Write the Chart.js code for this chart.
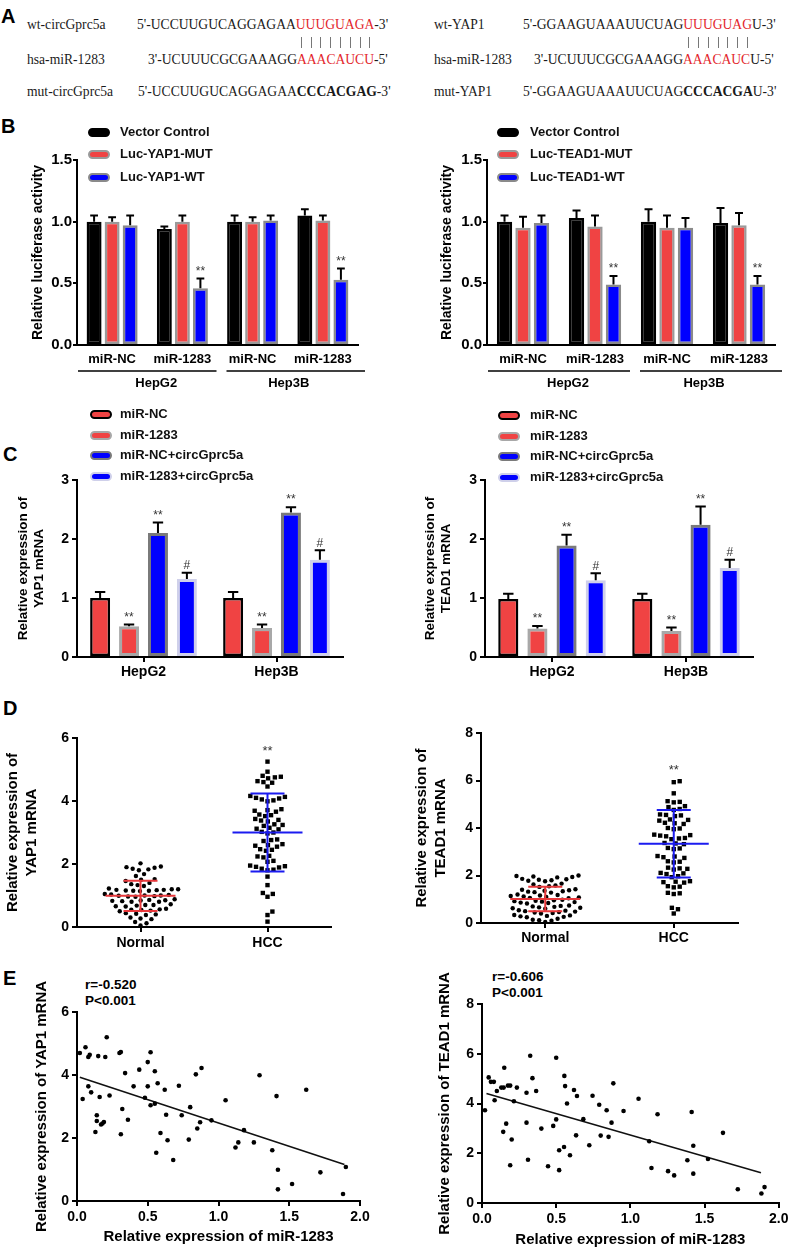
<!DOCTYPE html>
<html>
<head>
<meta charset="utf-8">
<title>circGprc5a / miR-1283 / YAP1 / TEAD1</title>
<script src="https://cdn.jsdelivr.net/npm/chart.js@4.4.1/dist/chart.umd.min.js"></script>
<style>
  body { margin: 0; background: #fff; }
  #page { position: relative; width: 791px; height: 1250px; overflow: hidden; font-family: "Liberation Sans", Arial, sans-serif; color: #000; }
  #page canvas { position: absolute; }
  .t { position: absolute; white-space: nowrap; line-height: 16px; }
  .serif { font-family: "Liberation Serif", "Times New Roman", serif; font-size: 13.6px; color: #1a1a1a; }
  .red { color: #e3262c; }
  .pl { font-weight: bold; font-size: 20px; line-height: 24px; }
  .lg { font-weight: bold; font-size: 13px; color: #111; z-index: 2; }
  .sw { position: absolute; width: 18px; height: 5px; border: 2px solid; border-radius: 5px; z-index: 2; }
  .pipe { position: absolute; width: 1px; height: 11px; background: #777; }
  .st { font-weight: bold; font-size: 13.5px; }
</style>
</head>
<body>
<div id="page">
  <div class="t pl" style="left:1px;top:4px">A</div>
  <div class="t serif" style="left:27px;top:17px">wt-circGprc5a</div>
  <div class="t serif" id="wtL" style="left:137px;top:17px">5'-UCCUUGUCAGGAGAA<span class="red">UUUGUAGA</span>-3'</div>
  <div class="t serif" style="left:27px;top:52px">hsa-miR-1283</div>
  <div class="t serif" style="left:148px;top:52px">3'-UCUUUCGCGAAAGG<span class="red">AAACAUCU</span>-5'</div>
  <div class="t serif" style="left:27px;top:84px">mut-circGprc5a</div>
  <div class="t serif" style="left:138px;top:84px">5'-UCCUUGUCAGGAGAA<b>CCCACGAG</b>-3'</div>

  <div class="t serif" style="left:434px;top:17px">wt-YAP1</div>
  <div class="t serif" id="wtR" style="left:523px;top:17px">5'-GGAAGUAAAUUCUAG<span class="red">UUUGUAG</span>U-3'</div>
  <div class="t serif" style="left:434px;top:52px">hsa-miR-1283</div>
  <div class="t serif" style="left:534px;top:52px">3'-UCUUUCGCGAAAGG<span class="red">AAACAUC</span>U-5'</div>
  <div class="t serif" style="left:434px;top:84px">mut-YAP1</div>
  <div class="t serif" style="left:523px;top:84px">5'-GGAAGUAAAUUCUAG<b>CCCACGA</b>U-3'</div>

  <div class="t pl" style="left:1px;top:114px">B</div>
  <div class="t pl" style="left:3px;top:442px">C</div>
  <div class="t pl" style="left:3px;top:696px">D</div>
  <div class="t pl" style="left:3px;top:966px">E</div>

  <div class="t st" style="left:85px;top:977px">r=-0.520</div>
  <div class="t st" style="left:85px;top:993px">P&lt;0.001</div>
  <div class="t st" style="left:492px;top:969px">r=-0.606</div>
  <div class="t st" style="left:492px;top:985px">P&lt;0.001</div>
</div>

<script>
// ---------- data ----------
// B: luciferase reporter
const bCats = ['miR-NC', 'miR-1283', 'miR-NC', 'miR-1283'];
const bGroups = ['HepG2', 'Hep3B'];
const bWtSig = ['', '**', '', '**'];

const bYapLabels = ['Vector Control', 'Luc-YAP1-MUT', 'Luc-YAP1-WT'];
const bYapVector = [1.00, 0.94, 1.00, 1.05];
const bYapVectorErr = [0.05, 0.02, 0.05, 0.05];
const bYapMut = [1.00, 1.00, 1.00, 1.01];
const bYapMutErr = [0.035, 0.05, 0.035, 0.04];
const bYapWt = [0.97, 0.46, 1.01, 0.53];
const bYapWtErr = [0.08, 0.08, 0.04, 0.09];

const bTeadLabels = ['Vector Control', 'Luc-TEAD1-MUT', 'Luc-TEAD1-WT'];
const bTeadVector = [1.00, 1.03, 1.00, 0.99];
const bTeadVectorErr = [0.05, 0.06, 0.10, 0.12];
const bTeadMut = [0.95, 0.96, 0.95, 0.97];
const bTeadMutErr = [0.09, 0.09, 0.10, 0.10];
const bTeadWt = [0.99, 0.49, 0.95, 0.49];
const bTeadWtErr = [0.06, 0.07, 0.08, 0.07];

// C: qPCR, one row per series, one column per cell line
const cCats = ['HepG2', 'Hep3B'];
const cLabels = ['miR-NC', 'miR-1283', 'miR-NC+circGprc5a', 'miR-1283+circGprc5a'];
const cSig = ['', '**', '**', '#'];
const cYap = [[1.00, 1.00], [0.52, 0.49], [2.10, 2.45], [1.32, 1.65]];
const cYapErr = [[0.10, 0.10], [0.03, 0.06], [0.18, 0.09], [0.11, 0.16]];
const cTead = [[0.985, 0.985], [0.485, 0.44], [1.89, 2.24], [1.30, 1.51]];
const cTeadErr = [[0.085, 0.085], [0.04, 0.06], [0.18, 0.31], [0.12, 0.14]];

// D: tissue expression
const dCats = ['Normal', 'HCC'];
const dSig = ['', '**'];
const dYapNormal = [2.02, 1.92, 1.90, 1.88, 1.85, 1.83, 1.80, 1.68, 1.62, 1.52, 1.50, 1.46, 1.40, 1.36, 1.33, 1.30,
  1.22, 1.20, 1.20, 1.18, 1.18, 1.17, 1.16, 1.15, 1.15, 1.14,
  1.05, 1.03, 1.02, 1.00, 1.00, 0.99, 0.98, 0.97, 0.96,
  0.88, 0.86, 0.85, 0.84, 0.83, 0.82, 0.80, 0.80,
  0.72, 0.70, 0.70, 0.68, 0.66, 0.65,
  0.58, 0.56, 0.55, 0.54, 0.52, 0.50,
  0.44, 0.42, 0.40, 0.38, 0.30, 0.27, 0.25, 0.16, 0.12, 0.05];
const dYapHcc = [5.25, 4.93, 4.80, 4.77, 4.75, 4.72, 4.63, 4.60, 4.58, 4.46,
  4.16, 4.13, 4.10, 4.08, 4.05, 4.02, 3.99,
  3.74, 3.71, 3.69, 3.66, 3.57, 3.55, 3.52,
  3.43, 3.40, 3.38, 3.35, 3.26, 3.24, 3.21, 3.15, 3.12, 3.10,
  3.02, 3.00, 2.97, 2.78, 2.76, 2.73,
  2.63, 2.60, 2.58, 2.55, 2.47, 2.45, 2.42,
  2.26, 2.24, 2.21, 2.10, 2.07,
  1.95, 1.93, 1.91, 1.89, 1.85, 1.82, 1.80,
  1.60, 1.33, 1.08, 1.05, 0.96, 0.49, 0.38, 0.17];
const dYapMean = [0.99, 3.00];
const dYapSd = [0.48, 1.24];

const dTeadNormal = [2.00, 1.98, 1.96, 1.94, 1.92, 1.86, 1.84, 1.82, 1.80, 1.78, 1.76,
  1.66, 1.62, 1.58, 1.55, 1.52,
  1.42, 1.40, 1.38, 1.36, 1.34, 1.32, 1.30, 1.28,
  1.20, 1.18, 1.16, 1.14, 1.12, 1.10, 1.08, 1.06, 1.04,
  0.98, 0.96, 0.94, 0.92, 0.90, 0.88, 0.86, 0.84, 0.82,
  0.74, 0.72, 0.70, 0.68, 0.66, 0.64, 0.62, 0.60,
  0.54, 0.52, 0.50, 0.48, 0.46, 0.44, 0.42, 0.40,
  0.34, 0.32, 0.30, 0.28, 0.26, 0.24, 0.18, 0.14, 0.12, 0.10, 0.04];
const dTeadHcc = [5.97, 5.93, 5.46, 5.13, 5.10, 5.08, 4.92, 4.88, 4.80, 4.76,
  4.57, 4.55, 4.53, 4.50, 4.36, 4.34, 4.31, 4.22, 4.20, 4.17,
  4.00, 3.98, 3.95, 3.72, 3.70, 3.68, 3.65, 3.58, 3.56, 3.53,
  3.37, 3.35, 3.32, 3.16, 3.14, 3.11,
  2.82, 2.80, 2.77, 2.74, 2.60, 2.58, 2.55,
  2.33, 2.30, 2.28, 2.25, 2.11, 2.09, 2.06,
  1.97, 1.93, 1.76, 1.74, 1.72, 1.70, 1.55, 1.53, 1.50,
  1.27, 1.25, 1.22, 0.64, 0.58, 0.40];
const dTeadMean = [1.01, 3.34];
const dTeadSd = [0.52, 1.42];

// E: correlation with miR-1283
const eYapX = [0.02, 0.06, 0.08, 0.09, 0.15, 0.20, 0.21, 0.30, 0.31, 0.04, 0.08, 0.10, 0.16, 0.23,
  0.14, 0.14, 0.13, 0.17, 0.18, 0.19, 0.32, 0.36, 0.31, 0.34, 0.40, 0.44, 0.48, 0.50, 0.50, 0.52,
  0.52, 0.55, 0.55, 0.57, 0.56, 0.59, 0.62, 0.63, 0.64, 0.68, 0.72, 0.74, 0.79, 0.80, 0.84, 0.85,
  0.87, 0.88, 0.95, 1.05, 1.12, 1.14, 1.18, 1.25, 1.29, 1.38, 1.41, 1.42, 1.42, 1.52, 1.62, 1.72, 1.88, 1.90];
const eYapY = [4.70, 4.88, 4.57, 4.64, 4.60, 4.57, 5.20, 4.70, 4.73, 3.24, 3.64, 3.45, 3.30, 3.35,
  2.72, 2.54, 2.19, 2.43, 2.46, 2.51, 2.92, 2.58, 2.12, 4.06, 3.64, 4.17, 3.28, 4.41, 3.64, 4.72,
  3.04, 4.12, 3.09, 3.74, 1.53, 2.16, 3.53, 2.74, 1.93, 1.30, 3.66, 2.72, 1.95, 2.98, 4.02, 2.30,
  2.50, 4.22, 2.56, 3.20, 1.70, 1.86, 2.25, 1.86, 3.99, 1.61, 3.33, 0.99, 0.37, 0.54, 3.53, 0.91, 0.22, 1.08];
const eYapFitX = [0.02, 1.89];
const eYapFitY = [3.93, 1.16];

const eTeadX = [0.02, 0.045, 0.06, 0.08, 0.085, 0.10, 0.13, 0.146, 0.15, 0.175, 0.19, 0.215, 0.235,
  0.143, 0.163, 0.20, 0.19, 0.30, 0.325, 0.34, 0.365, 0.30, 0.31, 0.40, 0.445, 0.48, 0.50, 0.50,
  0.52, 0.52, 0.555, 0.56, 0.553, 0.573, 0.593, 0.62, 0.64, 0.634, 0.683, 0.723, 0.745, 0.79, 0.80,
  0.84, 0.853, 0.873, 0.885, 0.954, 1.055, 1.127, 1.142, 1.183, 1.254, 1.295, 1.384, 1.413, 1.424,
  1.424, 1.523, 1.624, 1.724, 1.883, 1.904];
const eTeadY = [3.73, 5.05, 4.87, 4.87, 4.13, 4.50, 4.64, 4.64, 5.44, 4.72, 4.72, 4.09, 4.64,
  2.86, 3.19, 2.55, 1.52, 4.43, 5.92, 5.02, 4.50, 3.23, 1.74, 2.99, 1.48, 3.10, 3.36, 5.84,
  2.12, 1.32, 5.11, 4.70, 2.25, 4.00, 1.92, 4.54, 4.30, 2.72, 3.37, 2.32, 4.31, 3.95, 2.71,
  3.73, 2.66, 3.23, 4.81, 3.70, 4.19, 2.48, 1.41, 3.57, 1.28, 1.11, 1.72, 3.66, 2.30,
  1.18, 1.77, 2.82, 0.55, 0.38, 0.64];
const eTeadFitX = [0.03, 1.88];
const eTeadFitY = [4.40, 1.22];

// ---------- styling ----------
const FONT = '"Liberation Sans", Arial, sans-serif';
const RED = '#f04343', BLUE = '#0000ff';
const bFill = ['#000', RED, BLUE];
const bEdge = ['#000', '#9a9a9a', '#8a8a8a'];
const cFill = [RED, RED, BLUE, BLUE];
const cEdge = ['#000', '#a8a8a8', '#7a7a7a', '#cfd0ea'];
const dColors = ['#e8393c', '#1b1bf0'];

Chart.defaults.font.family = FONT;
Chart.defaults.color = '#000';
Chart.defaults.plugins.legend.display = false;
Chart.defaults.plugins.tooltip.enabled = false;

const page = document.getElementById('page');

function canvasAt(box) {
  const c = document.createElement('canvas');
  c.width = box.w; c.height = box.h;
  c.style.left = box.l + 'px'; c.style.top = box.t + 'px';
  c.style.width = box.w + 'px'; c.style.height = box.h + 'px';
  page.appendChild(c);
  return c;
}

// canvas box + wanted plot area -> padding and fixed axis sizes
function frame(box, area) {
  return {
    padding: { top: area.t - box.t, right: box.l + box.w - area.r, left: 0, bottom: 0 },
    yWidth: area.l - box.l,
    xHeight: box.t + box.h - area.b
  };
}

function yAxis(f, o) {
  return {
    type: 'linear', min: 0, max: o.max,
    afterFit: s => { s.width = f.yWidth; },
    ticks: { stepSize: o.step, callback: o.fmt || (v => v), font: { size: o.tick || 14, weight: 'bold' }, padding: o.tickPad ?? 3 },
    grid: { drawOnChartArea: false, tickLength: o.tickLen || 5, color: '#000', lineWidth: 2 },
    border: { color: '#000', width: 2 },
    title: { display: true, text: o.title, color: '#000', font: { size: o.size, weight: 'bold', lineHeight: o.lh || 1.2 }, padding: { top: o.pad, bottom: 0 } }
  };
}

const errorBars = {
  id: 'errorBars',
  afterDatasetsDraw(chart) {
    const ctx = chart.ctx, ys = chart.scales.y;
    chart.data.datasets.forEach((ds, i) => {
      if (!ds.errors) return;
      chart.getDatasetMeta(i).data.forEach((bar, j) => {
        const top = ys.getPixelForValue(ds.data[j] + ds.errors[j]);
        const cap = bar.width * 0.26;
        ctx.save();
        ctx.strokeStyle = '#000';
        ctx.lineWidth = 2;
        ctx.beginPath();
        ctx.moveTo(bar.x, bar.y); ctx.lineTo(bar.x, top);
        ctx.moveTo(bar.x - cap, top); ctx.lineTo(bar.x + cap, top);
        ctx.stroke();
        if (ds.sig && ds.sig[j]) {
          ctx.fillStyle = '#333';
          ctx.font = '12px ' + FONT;
          ctx.textAlign = 'center';
          ctx.textBaseline = 'bottom';
          ctx.fillText(ds.sig[j], bar.x, top - 1);
        }
        ctx.restore();
      });
    });
  }
};

function groupLines(names) {
  return {
    id: 'groupLines',
    afterDraw(chart) {
      const xs = chart.scales.x, ctx = chart.ctx, a = chart.chartArea;
      const w = xs.getPixelForValue(1) - xs.getPixelForValue(0);
      names.forEach((name, g) => {
        const mid = (xs.getPixelForValue(2 * g) + xs.getPixelForValue(2 * g + 1)) / 2;
        const shift = g * 8;
        ctx.save();
        ctx.strokeStyle = '#000';
        ctx.lineWidth = 1.5;
        ctx.beginPath();
        ctx.moveTo(mid + shift - w + 1, a.bottom + 26);
        ctx.lineTo(mid + shift + w - 1, a.bottom + 26);
        ctx.stroke();
        ctx.fillStyle = '#000';
        ctx.font = 'bold 13px ' + FONT;
        ctx.textAlign = 'center';
        ctx.textBaseline = 'middle';
        ctx.fillText(name, mid + (g ? 1 : 9), a.bottom + 38);
        ctx.restore();
      });
    }
  };
}

function meanSd(mean, sd, groups) {
  return {
    id: 'meanSd',
    afterDatasetsDraw(chart) {
      const xs = chart.scales.x, ys = chart.scales.y, ctx = chart.ctx;
      mean.forEach((m, i) => {
        const x = xs.getPixelForValue(i + 0.5);
        const yM = ys.getPixelForValue(m);
        const yU = ys.getPixelForValue(m + sd[i]);
        const yL = ys.getPixelForValue(m - sd[i]);
        ctx.save();
        ctx.strokeStyle = dColors[i];
        ctx.lineWidth = 2;
        ctx.beginPath();
        ctx.moveTo(x - 35, yM); ctx.lineTo(x + 35, yM);
        ctx.moveTo(x - 17, yU); ctx.lineTo(x + 17, yU);
        ctx.moveTo(x - 17, yL); ctx.lineTo(x + 17, yL);
        ctx.moveTo(x, yU); ctx.lineTo(x, yL);
        ctx.stroke();
        if (dSig[i]) {
          ctx.fillStyle = '#333';
          ctx.font = '13px ' + FONT;
          ctx.textAlign = 'center';
          ctx.textBaseline = 'bottom';
          ctx.fillText(dSig[i], x, ys.getPixelForValue(Math.max(...groups[i])) - 4);
        }
        ctx.restore();
      });
    }
  };
}

// spread the dots sideways so they do not overlap (beeswarm)
function swarm(chart, di, center, vals, gap) {
  const xs = chart.scales.x, ys = chart.scales.y;
  const cx = xs.getPixelForValue(center);
  const placed = [];
  const px = new Array(vals.length);
  const order = vals.map((v, i) => i).sort((a, b) => vals[a] - vals[b]);
  order.forEach(i => {
    const y = ys.getPixelForValue(vals[i]);
    const near = placed.filter(p => Math.abs(p.y - y) < gap);
    const cands = [cx];
    near.forEach(p => {
      const dx = Math.sqrt(gap * gap - (p.y - y) * (p.y - y));
      cands.push(p.x + dx, p.x - dx);
    });
    cands.sort((a, b) => Math.abs(a - cx) - Math.abs(b - cx));
    const x = cands.find(c => near.every(p => (p.x - c) ** 2 + (p.y - y) ** 2 >= gap * gap - 0.01));
    placed.push({ x, y });
    px[i] = x;
  });
  chart.data.datasets[di].data = vals.map((v, i) => ({ x: xs.getValueForPixel(px[i]), y: v }));
}

function legend(labels, fills, edges, boxX, textX, rows) {
  labels.forEach((lab, i) => {
    const sw = document.createElement('div');
    sw.className = 'sw';
    sw.style.left = boxX + 'px';
    sw.style.top = (rows[i] - 4.5) + 'px';
    sw.style.background = fills[i];
    sw.style.borderColor = edges[i];
    page.appendChild(sw);
    const tx = document.createElement('div');
    tx.className = 't lg';
    tx.textContent = lab;
    tx.style.left = textX + 'px';
    tx.style.top = (rows[i] - 8) + 'px';
    page.appendChild(tx);
  });
}

function pipes(id) {
  const node = document.querySelector('#' + id + ' .red').firstChild;
  const pr = page.getBoundingClientRect();
  for (let k = 0; k < node.length; k++) {
    const r = document.createRange();
    r.setStart(node, k); r.setEnd(node, k + 1);
    const b = r.getBoundingClientRect();
    const p = document.createElement('div');
    p.className = 'pipe';
    p.style.left = Math.round(b.left + b.width / 2 - pr.left) + 'px';
    p.style.top = '37px';
    page.appendChild(p);
  }
}

// ---------- charts ----------
function drawB(box, area, labels, series, errs, titlePad) {
  const f = frame(box, area);
  return new Chart(canvasAt(box), {
    type: 'bar',
    data: {
      labels: bCats,
      datasets: series.map((d, i) => ({
        label: labels[i], data: d, errors: errs[i], sig: i === 2 ? bWtSig : null,
        backgroundColor: bFill[i], borderColor: bEdge[i], borderWidth: 2.5, borderSkipped: false,
        barPercentage: 0.83, categoryPercentage: 0.77
      }))
    },
    options: {
      responsive: false, animation: false,
      layout: { padding: f.padding },
      scales: {
        x: {
          afterFit: s => { s.height = f.xHeight; },
          ticks: { font: { size: 13, weight: 'bold' }, padding: 7 },
          grid: { drawOnChartArea: false, drawTicks: false },
          border: { color: '#000', width: 2 }
        },
        y: yAxis(f, { max: 1.5, step: 0.5, fmt: v => v.toFixed(1), tick: 15, tickLen: 4, tickPad: 1,
          title: 'Relative luciferase activity', size: 14, pad: titlePad })
      }
    },
    plugins: [errorBars, groupLines(bGroups)]
  });
}

function drawC(box, area, means, errs, title, titlePad) {
  const f = frame(box, area);
  return new Chart(canvasAt(box), {
    type: 'bar',
    data: {
      labels: cCats,
      datasets: cLabels.map((lab, i) => ({
        label: lab, data: means[i], errors: errs[i], sig: cCats.map(() => cSig[i]),
        backgroundColor: cFill[i], borderColor: cEdge[i], borderWidth: i === 0 ? 2.5 : 3, borderSkipped: false,
        barPercentage: 0.69, categoryPercentage: 0.87
      }))
    },
    options: {
      responsive: false, animation: false,
      layout: { padding: f.padding },
      scales: {
        x: {
          afterFit: s => { s.height = f.xHeight; },
          ticks: { font: { size: 14, weight: 'bold' }, padding: 2 },
          grid: { offset: false, drawOnChartArea: false, tickLength: 5, color: '#000', lineWidth: 2 },
          border: { color: '#000', width: 2 }
        },
        y: yAxis(f, { max: 3, step: 1, title, size: 13.5, lh: 1.2, pad: titlePad })
      }
    },
    plugins: [errorBars]
  });
}

function drawD(box, area, normal, hcc, mean, sd, yMax, title, titlePad, tickPad) {
  const f = frame(box, area);
  const chart = new Chart(canvasAt(box), {
    type: 'scatter',
    data: {
      datasets: [
        { data: normal.map(v => ({ x: 0.5, y: v })), pointStyle: 'circle', pointRadius: 2.2, backgroundColor: '#000', borderWidth: 0 },
        { data: hcc.map(v => ({ x: 1.5, y: v })), pointStyle: 'rect', pointRadius: 3.1, backgroundColor: '#000', borderWidth: 0 }
      ]
    },
    options: {
      responsive: false, animation: false,
      layout: { padding: f.padding },
      scales: {
        x: {
          type: 'linear', min: 0, max: 2,
          afterFit: s => { s.height = f.xHeight; },
          afterBuildTicks: s => { s.ticks = dCats.map((c, i) => ({ value: i + 0.5 })); },
          ticks: { callback: v => dCats[Math.round(v - 0.5)], font: { size: 14, weight: 'bold' }, padding: tickPad },
          grid: { drawOnChartArea: false, tickLength: 5, color: '#000', lineWidth: 2 },
          border: { color: '#000', width: 2 }
        },
        y: yAxis(f, { max: yMax, step: 2, title, size: 15, lh: 1.3, pad: titlePad })
      }
    },
    plugins: [meanSd(mean, sd, [normal, hcc])]
  });
  swarm(chart, 0, 0.5, normal, 6.4);
  swarm(chart, 1, 1.5, hcc, 6.0);
  chart.update('none');
  return chart;
}

function drawE(box, area, xv, yv, fitX, fitY, yMax, title, titlePad, xTitlePad) {
  const f = frame(box, area);
  return new Chart(canvasAt(box), {
    type: 'scatter',
    data: {
      datasets: [
        { data: xv.map((x, i) => ({ x, y: yv[i] })), pointRadius: 2.3, backgroundColor: '#000', borderWidth: 0 },
        { type: 'line', data: fitX.map((x, i) => ({ x, y: fitY[i] })), borderColor: '#111', borderWidth: 1.6, pointRadius: 0, fill: false }
      ]
    },
    options: {
      responsive: false, animation: false,
      layout: { padding: f.padding },
      scales: {
        x: {
          type: 'linear', min: 0, max: 2,
          afterFit: s => { s.height = f.xHeight; },
          ticks: { stepSize: 0.5, callback: v => v.toFixed(1), font: { size: 14, weight: 'bold' }, padding: 2.5 },
          grid: { drawOnChartArea: false, tickLength: 5, color: '#000', lineWidth: 2 },
          border: { color: '#000', width: 2 },
          title: { display: true, text: 'Relative expression of miR-1283', color: '#000', font: { size: 15, weight: 'bold' }, padding: { top: 0, bottom: xTitlePad } }
        },
        y: yAxis(f, { max: yMax, step: 2, title, size: 15, pad: titlePad })
      }
    }
  });
}

pipes('wtL');
pipes('wtR');

drawB({ l: 0, t: 120, w: 375, h: 270 }, { l: 77, t: 160, r: 358, b: 345 },
  bYapLabels, [bYapVector, bYapMut, bYapWt], [bYapVectorErr, bYapMutErr, bYapWtErr], 30);
drawB({ l: 395, t: 120, w: 396, h: 270 }, { l: 487, t: 160, r: 775, b: 345 },
  bTeadLabels, [bTeadVector, bTeadMut, bTeadWt], [bTeadVectorErr, bTeadMutErr, bTeadWtErr], 44);
legend(bYapLabels, bFill, bEdge, 88, 120, [132, 154, 177]);
legend(bTeadLabels, bFill, bEdge, 497, 530, [132, 154, 177]);

drawC({ l: 0, t: 460, w: 375, h: 230 }, { l: 77, t: 480, r: 343, b: 657 },
  cYap, cYapErr, ['Relative expression of', 'YAP1 mRNA'], 15);
drawC({ l: 395, t: 460, w: 396, h: 230 }, { l: 485, t: 480, r: 753, b: 657 },
  cTead, cTeadErr, ['Relative expression of', 'TEAD1 mRNA'], 27);
legend(cLabels, cFill, cEdge, 90, 120, [414, 435, 455, 476]);
legend(cLabels, cFill, cEdge, 498, 530, [415, 436, 456, 477]);

drawD({ l: 0, t: 720, w: 375, h: 235 }, { l: 77, t: 738, r: 331, b: 927 },
  dYapNormal, dYapHcc, dYapMean, dYapSd, 6, ['Relative expression of', 'YAP1 mRNA'], 3, 2.5);
drawD({ l: 395, t: 715, w: 396, h: 240 }, { l: 481, t: 733, r: 738, b: 923 },
  dTeadNormal, dTeadHcc, dTeadMean, dTeadSd, 8, ['Relative expression of', 'TEAD1 mRNA'], 17, 1.5);

drawE({ l: 0, t: 970, w: 380, h: 280 }, { l: 77, t: 1012, r: 360, b: 1201 },
  eYapX, eYapY, eYapFitX, eYapFitY, 6, 'Relative expression of YAP1 mRNA', 33, 4);
drawE({ l: 395, t: 970, w: 396, h: 280 }, { l: 482, t: 1004, r: 780, b: 1203 },
  eTeadX, eTeadY, eTeadFitX, eTeadFitY, 8, 'Relative expression of TEAD1 mRNA', 41, 1);
</script>
</body>
</html>
